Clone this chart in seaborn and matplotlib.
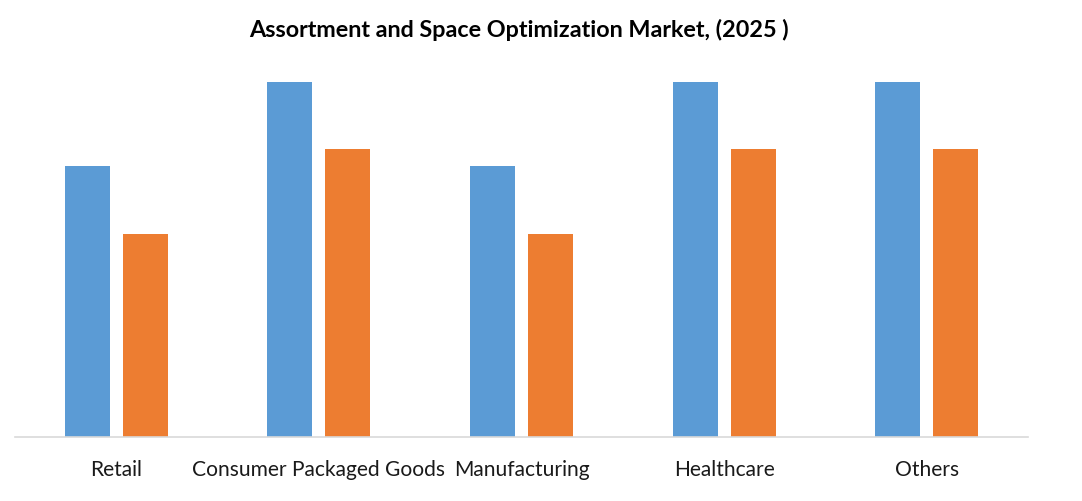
import seaborn as sns
import matplotlib.pyplot as plt
import pandas as pd

categories = ["Retail", "Consumer Packaged Goods", "Manufacturing", "Healthcare", "Others"]
series_names = ["Series 1", "Series 2"]
series1 = [2.71, 3.55, 2.71, 3.55, 3.55]
series2 = [2.03, 2.88, 2.03, 2.88, 2.88]

df = pd.DataFrame({
    "Segment": categories * 2,
    "Series": [series_names[0]] * len(categories) + [series_names[1]] * len(categories),
    "Value": series1 + series2,
})

sns.set_style("white")
plt.rcParams['font.family'] = ['Lato', 'DejaVu Sans']

fig = plt.figure(figsize=(10.82, 5.02), dpi=100)
ax = fig.add_axes([15 / 1082, 64 / 502, 1013 / 1082, 378 / 502])

sns.barplot(data=df, x="Segment", y="Value", hue="Series", order=categories,
            palette=["#5B9BD5", "#ED7D31"], width=0.572, gap=0.224,
            legend=False, ax=ax, saturation=1, linewidth=0)

ax.set_xlim(-0.5, 4.5)
ax.set_ylim(0, 3.78)
ax.set_xlabel("")
ax.set_ylabel("")
ax.set_yticks([])
for s in ["top", "right", "left"]:
    ax.spines[s].set_visible(False)
ax.spines["bottom"].set_color("#D9D9D9")
ax.spines["bottom"].set_linewidth(1.2)
ax.tick_params(axis="x", length=0, pad=16, labelsize=15.1, labelcolor="#1a1a1a")

fig.text(519 / 1082, 1 - 30 / 502, "Assortment and Space Optimization Market, (2025 )",
         ha="center", va="center", fontsize=16.8, fontweight="bold", color="black")

fig.savefig("out.png", dpi=100)
